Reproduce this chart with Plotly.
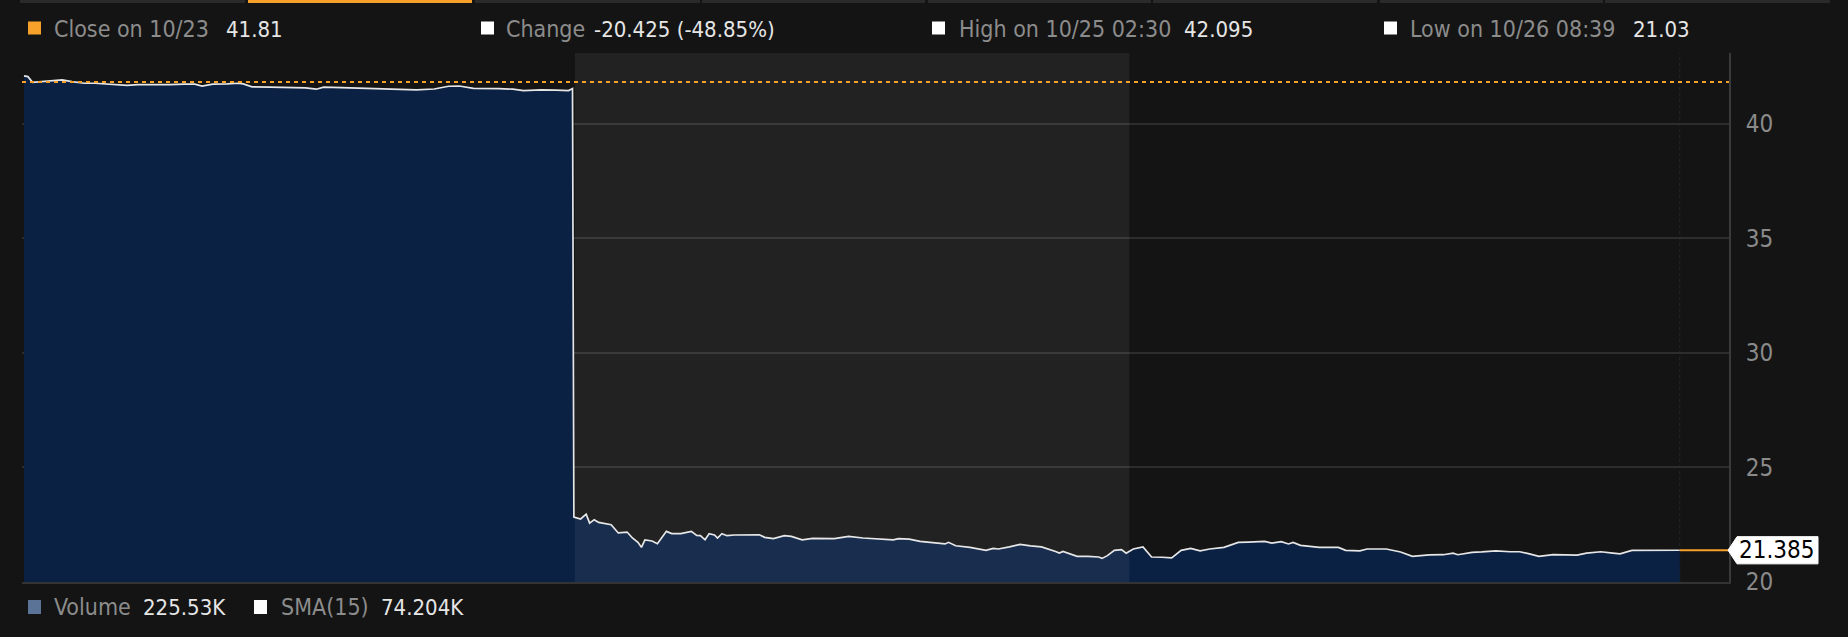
import plotly.graph_objects as go

# ---------------- data ----------------
# hours since start of window
hours = [
    0.00, 0.17, 0.37, 0.75, 1.22, 1.65, 2.07, 2.61, 3.07, 3.53, 4.00, 4.46, 4.92, 5.54,
    6.31, 6.93, 7.39, 7.70, 8.17, 8.78, 9.25, 9.48, 9.86, 10.64, 11.56, 12.18, 12.64,
    12.96, 13.73, 14.65, 15.58, 16.20, 16.97, 17.74, 18.36, 18.82, 19.44, 20.52, 21.14,
    21.60, 22.37, 22.99, 23.55, 23.72,
    23.78, 24.07, 24.31, 24.46, 24.66, 24.85, 25.08, 25.39, 25.70, 26.08, 26.31, 26.55,
    26.70, 26.85, 27.16, 27.39, 27.78, 28.01, 28.40, 28.86, 29.09, 29.25, 29.45, 29.63,
    29.86, 29.99, 30.18, 30.40, 30.72, 31.02, 31.80, 32.03, 32.41, 32.88, 33.18, 33.65,
    34.11, 35.04, 35.66, 36.28, 36.89, 37.59, 37.82, 38.28, 38.75, 39.36, 39.83, 39.98,
    40.29, 40.91, 41.60, 41.91, 42.14, 42.61, 43.07, 43.53, 44.00, 44.61, 44.77, 44.93,
    45.23, 45.54, 46.01, 46.47, 46.62, 46.85,
    47.15, 47.46, 47.66, 47.97, 48.39, 48.76, 49.21, 49.63, 50.04, 50.45, 50.86, 51.27,
    51.89, 52.51, 52.93, 53.65, 53.96, 54.37, 54.68, 54.88, 55.20, 56.02, 56.84, 57.15,
    57.77, 58.08, 58.91, 59.53, 60.04, 60.77, 61.38, 61.80, 62.00, 62.62, 63.04, 63.65,
    64.27, 64.68, 65.10, 65.51, 66.13, 66.95, 67.16, 67.57, 68.19, 68.71, 69.02, 69.53,
    70.26, 70.88, 71.60,
]
price = [
    42.08, 42.05, 41.80, 41.83, 41.86, 41.91, 41.83, 41.76, 41.76, 41.73, 41.73, 41.67,
    41.70, 41.69, 41.70, 41.72, 41.72, 41.64, 41.72, 41.73, 41.76, 41.73, 41.60, 41.59,
    41.59, 41.56, 41.50, 41.59, 41.57, 41.54, 41.51, 41.47, 41.47, 41.51, 41.63, 41.64,
    41.54, 41.53, 41.50, 41.44, 41.47, 41.46, 41.44, 41.53,
    22.83, 22.75, 22.96, 22.57, 22.72, 22.60, 22.57, 22.50, 22.14, 22.18, 21.92, 21.73,
    21.51, 21.84, 21.79, 21.67, 22.21, 22.11, 22.11, 22.21, 22.03, 22.02, 21.84, 22.11,
    22.05, 21.92, 22.11, 22.02, 22.05, 22.06, 22.06, 21.95, 21.89, 22.02, 21.99, 21.84,
    21.90, 21.89, 21.99, 21.92, 21.87, 21.84, 21.89, 21.87, 21.77, 21.70, 21.66, 21.73,
    21.58, 21.51, 21.38, 21.47, 21.44, 21.53, 21.64, 21.58, 21.53, 21.33, 21.26, 21.33,
    21.22, 21.12, 21.12, 21.09, 21.03, 21.15,
    21.38, 21.41, 21.26, 21.44, 21.53, 21.09, 21.08, 21.05, 21.38, 21.47, 21.36, 21.44,
    21.51, 21.73, 21.74, 21.77, 21.70, 21.76, 21.66, 21.73, 21.60, 21.51, 21.51, 21.38,
    21.36, 21.44, 21.44, 21.31, 21.12, 21.18, 21.19, 21.26, 21.19, 21.29, 21.31, 21.36,
    21.32, 21.32, 21.23, 21.12, 21.19, 21.19, 21.17, 21.26, 21.32, 21.26, 21.23, 21.38,
    21.39, 21.38, 21.385,
]
prev_close = 41.81
session_band = [23.82, 47.80]          # shaded middle session (hours)
y_ticks = [20, 25, 30, 35, 40]

header_labels = ["Close on 10/23", "Change", "High on 10/25 02:30", "Low on 10/26 08:39"]
header_values = ["41.81", "-20.425 (-48.85%)", "42.095", "21.03"]
header_colors = ["#f7a12b", "#ffffff", "#ffffff", "#ffffff"]
footer_labels = ["Volume", "SMA(15)"]
footer_values = ["225.53K", "74.204K"]
footer_colors = ["#5b7396", "#ffffff"]
last_label = "21.385"

# ---------------- layout geometry (screen pixels) ----------------
W, H = 1848, 637
L, R, T, B = 22, 1729, 53, 582
X_RANGE = [-0.086, 73.73]
Y_RANGE = [20, 43.08]
FONT = "Liberation Sans Narrow, Arial Narrow, DejaVu Sans Condensed, sans-serif"
ORANGE = "#f7a12b"
BG = "#141414"


def px(xp):
    return (xp - L) / (R - L)


def py(yp):
    return (B - yp) / (B - T)


unit_px = (B - T) / (Y_RANGE[1] - Y_RANGE[0])

fig = go.Figure()
fig.add_trace(go.Scatter(
    x=hours, y=price, mode="lines", fill="tozeroy",
    fillcolor="#0a2144", line=dict(color="#e6e6e6", width=1.7),
    hoverinfo="skip", showlegend=False,
))
# last price extension to axis
fig.add_trace(go.Scatter(
    x=[hours[-1], X_RANGE[1]], y=[price[-1], price[-1]], mode="lines",
    line=dict(color=ORANGE, width=2), hoverinfo="skip", showlegend=False,
))

shapes = []
# session band overlay
shapes.append(dict(type="rect", xref="x", yref="paper", x0=session_band[0], x1=session_band[1],
                   y0=0, y1=1, fillcolor="rgba(255,255,255,0.064)", line=dict(width=0), layer="above"))
# dotted vertical at last data time
shapes.append(dict(type="line", xref="x", yref="paper", x0=hours[-1], x1=hours[-1], y0=0, y1=1,
                   line=dict(color="#262626", width=1, dash="dot"), layer="below"))
# previous close dashed line
shapes.append(dict(type="line", xref="paper", yref="y", x0=0, x1=1, y0=prev_close, y1=prev_close,
                   line=dict(color=ORANGE, width=2, dash="4px,4px"), layer="above"))

# top tabs
tab_edges = [(20, 245), (248, 472), (475, 700), (702, 925), (928, 1151), (1153, 1377), (1380, 1603), (1605, 1830)]
for i, (a, b) in enumerate(tab_edges):
    shapes.append(dict(type="rect", xref="paper", yref="paper", x0=px(a), x1=px(b), y0=py(3), y1=py(0),
                       fillcolor=ORANGE if i == 1 else "#2a2a2a", line=dict(width=0)))

annotations = []
# header
hdr_sq = [28, 481, 932, 1384]
hdr_lbl = [52, 504, 957, 1408]
hdr_val = [224, 592, 1182, 1631]
for i in range(4):
    shapes.append(dict(type="rect", xref="paper", yref="paper", x0=px(hdr_sq[i]), x1=px(hdr_sq[i] + 13),
                       y0=py(34.5), y1=py(21.5), fillcolor=header_colors[i], line=dict(width=0)))
    annotations.append(dict(xref="paper", yref="paper", x=px(hdr_lbl[i]), y=py(29), xanchor="left",
                            yanchor="middle", showarrow=False, text=header_labels[i],
                            font=dict(family=FONT, size=23, color="#8c8c8c")))
    annotations.append(dict(xref="paper", yref="paper", x=px(hdr_val[i]), y=py(29), xanchor="left",
                            yanchor="middle", showarrow=False, text=header_values[i],
                            font=dict(family=FONT, size=22, color="#e6e6e6")))
# footer
ft_sq = [28, 254]
ft_lbl = [52, 279]
ft_val = [141, 379]
for i in range(2):
    shapes.append(dict(type="rect", xref="paper", yref="paper", x0=px(ft_sq[i]), x1=px(ft_sq[i] + 13),
                       y0=py(614), y1=py(600), fillcolor=footer_colors[i], line=dict(width=0)))
    annotations.append(dict(xref="paper", yref="paper", x=px(ft_lbl[i]), y=py(607), xanchor="left",
                            yanchor="middle", showarrow=False, text=footer_labels[i],
                            font=dict(family=FONT, size=23, color="#8c8c8c")))
    annotations.append(dict(xref="paper", yref="paper", x=px(ft_val[i]), y=py(607), xanchor="left",
                            yanchor="middle", showarrow=False, text=footer_values[i],
                            font=dict(family=FONT, size=22, color="#e6e6e6")))

# last price tag (pentagon)
half = 13.6 / unit_px
yl = price[-1]
path = (f"M {px(1728)},{yl} L {px(1737)},{yl + half} L {px(1818)},{yl + half} "
        f"L {px(1818)},{yl - half} L {px(1737)},{yl - half} Z")
shapes.append(dict(type="path", xref="paper", yref="y", path=path, fillcolor="#ffffff",
                   line=dict(color="#ffffff", width=1)))
annotations.append(dict(xref="paper", yref="y", x=px(1737), y=yl, xanchor="left", yanchor="middle",
                        showarrow=False, text=last_label, font=dict(family=FONT, size=24, color="#000000")))

fig.update_layout(
    width=W, height=H,
    margin=dict(l=L, r=W - R, t=T, b=H - B, pad=0),
    paper_bgcolor=BG, plot_bgcolor=BG,
    showlegend=False, hovermode=False,
    shapes=shapes, annotations=annotations,
    xaxis=dict(range=X_RANGE, showgrid=False, zeroline=False, showticklabels=False, ticks="",
               showline=True, linecolor="#333333", linewidth=2, fixedrange=True),
    yaxis=dict(range=Y_RANGE, side="right", tickvals=y_ticks, showgrid=True, gridcolor="#2d2d2d",
               gridwidth=1.5, zeroline=False, showline=True, linecolor="#3a3a3a", linewidth=2,
               ticks="", ticklabelstandoff=10, tickfont=dict(family=FONT, size=24, color="#8a8a8a"),
               fixedrange=True),
)

fig.write_html(
    "out.html",
    config={"displayModeBar": False},
    post_script="document.body.style.margin='0';document.body.style.background='#141414';"
                "document.body.style.overflow='hidden';",
)
